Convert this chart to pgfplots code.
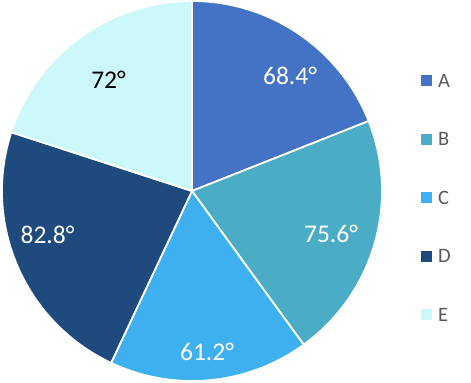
\documentclass[border=0pt]{standalone}
\usepackage{pgfplots}
\usepackage{pgfplotstable}
\pgfplotsset{compat=1.18}
\usepackage{fontspec}
\setmainfont{Carlito}
\definecolor{cA}{RGB}{68,114,196}
\definecolor{cB}{RGB}{75,172,198}
\definecolor{cC}{RGB}{62,176,239}
\definecolor{cD}{RGB}{31,74,126}
\definecolor{cE}{RGB}{204,248,250}
\definecolor{legtext}{RGB}{89,89,89}
\pgfplotstableread{
label angle color textcolor lx ly
A 68.4 cA white 290 307
B 75.6 cB white 331 149.5
C 61.2 cC white 207 31.5
D 82.8 cD white 47.5 148
E 72 cE black 108.5 303
}\piedata
\begin{document}
\begin{tikzpicture}
\path[use as bounding box] (0,0) rectangle (471bp,383bp);
\begin{axis}[width=471bp,height=383bp,scale only axis,
  xmin=0,xmax=471,ymin=0,ymax=383,hide axis,clip=false]
\pgfplotstablegetrowsof{\piedata}
\pgfmathtruncatemacro\N{\pgfplotsretval-1}
\xdef\cum{90}
\foreach \i in {0,...,\N}{
  \pgfplotstablegetelem{\i}{angle}\of\piedata \let\ang\pgfplotsretval
  \pgfplotstablegetelem{\i}{color}\of\piedata \let\col\pgfplotsretval
  \pgfplotstablegetelem{\i}{label}\of\piedata \let\lab\pgfplotsretval
  \pgfmathsetmacro\endang{\cum-\ang}
  \pgfmathsetmacro\ly{383-(\i*58.5+80.7)}
  \edef\temp{%
    \noexpand\fill[fill=\col, draw=white, line width=1.8bp, line join=round]
      (axis cs:192,192) -- ++(\cum:190bp) arc[start angle=\cum, end angle=\endang, radius=190bp] -- cycle;
    \noexpand\fill[\col] (axis cs:420.5,\ly) ++(0,-5.5bp) rectangle ++(11bp,11bp);
    \noexpand\node[anchor=west, inner sep=0pt, text=legtext, font=\noexpand\fontsize{20.5bp}{24bp}\noexpand\selectfont] at (axis cs:438,\ly) {\lab};
  }
  \temp
  \xdef\cum{\endang}
}
\pgfplotstableforeachcolumnelement{angle}\of\piedata\as\a{%
  \pgfplotstablegetelem{\pgfplotstablerow}{lx}\of\piedata \let\lx\pgfplotsretval
  \pgfplotstablegetelem{\pgfplotstablerow}{ly}\of\piedata \let\lyy\pgfplotsretval
  \pgfplotstablegetelem{\pgfplotstablerow}{textcolor}\of\piedata \let\tcol\pgfplotsretval
  \edef\temp{\noexpand\node[text=\tcol, font=\noexpand\fontsize{25.5bp}{30bp}\noexpand\selectfont] at (axis cs:\lx,\lyy) {\a\noexpand\textdegree};}
  \temp
}
\end{axis}
\end{tikzpicture}
\end{document}
